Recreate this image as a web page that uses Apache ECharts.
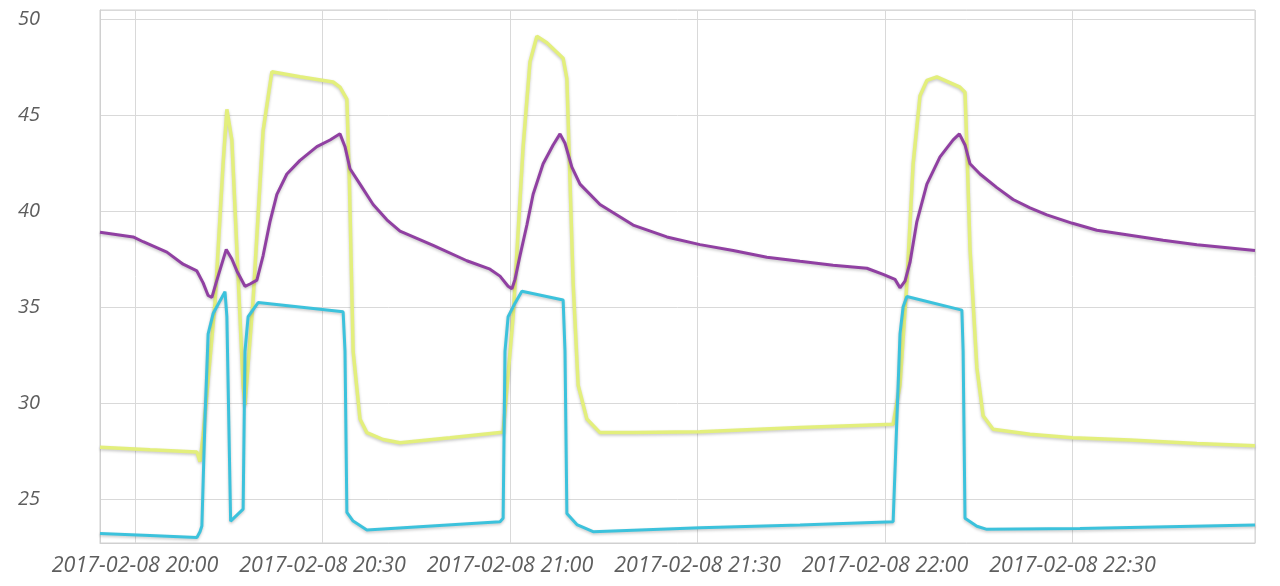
<!DOCTYPE html>
<html>
<head>
<meta charset="utf-8">
<script src="https://cdn.jsdelivr.net/npm/echarts@6/dist/echarts.min.js"></script>
<style>
  html, body { margin: 0; padding: 0; background: #ffffff; }
  #chart { width: 1280px; height: 586px; }
</style>
</head>
<body>
<div id="chart"></div>
<script>
// ---- data (minutes relative to 2017-02-08 20:00, values) ----
var baseDate = [2017, 1, 8, 20, 0];
var axisStartMinutes = -5.6;
var axisEndMinutes = 179.2;
var yMin = 22.71;
var yMax = 50.47;

var purpleMinutes = [-5.6,-0.3,1.3,5.1,7.7,9.9,10.9,11.7,12.3,13.1,14.6,15.5,16.3,17.6,18.4,19.5,20.5,21.6,22.7,24.3,26.4,29.1,31.2,32.8,33.6,34.4,36.0,38.1,40.3,42.4,47.7,53.1,56.8,58.4,59.7,60.3,60.8,61.6,62.7,63.7,65.3,66.9,68.0,68.8,69.9,71.2,74.4,79.7,85.1,90.4,95.7,101.1,106.4,111.7,117.1,119.7,121.6,122.4,123.2,124.0,125.1,126.7,128.8,130.9,131.9,132.8,133.6,135.2,137.9,140.5,143.2,145.9,150.0,153.9,159.2,164.5,169.9,175.2,179.2];
var purpleValues  = [38.9,38.65,38.4,37.86,37.23,36.88,36.26,35.6,35.5,36.4,38.0,37.5,36.88,36.08,36.2,36.4,37.68,39.45,40.87,41.93,42.64,43.35,43.7,44.02,43.35,42.2,41.4,40.34,39.54,38.95,38.21,37.41,36.97,36.61,36.08,35.95,36.44,37.68,39.27,40.87,42.46,43.44,44.02,43.53,42.29,41.4,40.34,39.27,38.65,38.25,37.94,37.59,37.38,37.18,37.02,36.7,36.44,36.0,36.35,37.32,39.45,41.4,42.82,43.71,44.02,43.44,42.46,41.93,41.22,40.6,40.16,39.8,39.36,39.0,38.74,38.48,38.24,38.07,37.94];

var yellowMinutes = [-5.6,2.4,9.9,10.4,10.9,12.8,14.1,14.7,15.5,16.3,17.3,17.6,18.9,20.5,21.9,26.4,31.7,32.8,33.9,34.3,34.9,36.0,37.1,39.7,42.4,50.4,58.4,58.9,60.5,62.1,63.2,64.3,65.9,68.5,69.1,69.6,70.1,70.9,72.3,74.4,79.7,90.4,106.4,121.3,122.4,123.5,124.5,125.6,126.7,128.3,132.0,132.8,133.1,133.6,134.7,135.7,137.3,143.2,150.0,159.2,169.9,179.2];
var yellowValues  = [27.7,27.57,27.45,26.95,28.3,35.2,42.5,45.3,43.7,38.0,30.9,29.9,35.4,44.2,47.25,46.99,46.72,46.45,45.83,41.58,32.7,29.17,28.46,28.1,27.93,28.19,28.46,28.49,34.5,43.35,47.78,49.1,48.76,47.96,46.9,41.58,36.26,30.94,29.17,28.46,28.46,28.5,28.72,28.9,30.94,36.26,42.46,46.0,46.8,46.99,46.45,46.19,43.35,38.03,31.83,29.34,28.63,28.37,28.19,28.07,27.89,27.78];

var cyanMinutes = [-5.6,2.4,9.9,10.4,10.7,11.2,11.7,12.5,14.4,14.7,15.3,17.3,17.6,18.1,19.7,33.3,33.6,33.9,34.9,37.1,58.4,58.9,59.2,59.7,60.8,61.9,68.5,68.8,69.1,70.7,73.3,90.4,106.4,121.3,122.4,122.9,123.5,132.3,132.5,132.8,134.7,136.3,151.2,179.2];
var cyanValues  = [23.2,23.1,23.0,23.3,23.6,29.2,33.6,34.66,35.8,34.5,23.85,24.47,32.7,34.5,35.23,34.75,32.7,24.3,23.85,23.39,23.82,24.0,32.7,34.5,35.2,35.82,35.37,32.7,24.25,23.67,23.3,23.5,23.65,23.82,33.6,35.02,35.55,34.84,32.7,24.0,23.58,23.42,23.47,23.65];

// ---- helpers ----
var baseTime = new Date(baseDate[0], baseDate[1], baseDate[2], baseDate[3], baseDate[4]).getTime();
function toTime(m) { return baseTime + Math.round(m * 60000); }
function pairs(ms, vs) { return ms.map(function (m, i) { return [toTime(m), vs[i]]; }); }
function pad(n) { return (n < 10 ? '0' : '') + n; }
function fmtTime(v) {
  var d = new Date(v);
  return d.getFullYear() + '-' + pad(d.getMonth() + 1) + '-' + pad(d.getDate()) + ' ' + pad(d.getHours()) + ':' + pad(d.getMinutes());
}

var gridColor = '#d9d9d9';

function lineSeries(name, data, color, width) {
  return {
    name: name,
    type: 'line',
    data: data,
    showSymbol: false,
    smooth: false,
    animation: false,
    lineStyle: {
      color: color,
      width: width,
      shadowColor: 'rgba(0,0,0,0.22)',
      shadowBlur: 3,
      shadowOffsetY: 1.5
    },
    itemStyle: { color: color }
  };
}

var chart = echarts.init(document.getElementById('chart'), null, { renderer: 'canvas' });
chart.setOption({
  backgroundColor: '#ffffff',
  animation: false,
  grid: {
    left: 100, right: 25, top: 10, bottom: 43,
    show: true, borderColor: '#d0d0d0', borderWidth: 1,
    containLabel: false
  },
  xAxis: {
    type: 'time',
    min: toTime(axisStartMinutes),
    max: toTime(axisEndMinutes),
    splitNumber: 6,
    minInterval: 31 * 60000,
    maxInterval: 59 * 60000,
    axisLine: { show: true, lineStyle: { color: '#d0d0d0' } },
    axisTick: { show: false },
    splitLine: { show: true, lineStyle: { color: gridColor, width: 1 } },
    axisLabel: {
      margin: 12,
      showMinLabel: false,
      showMaxLabel: false,
      hideOverlap: false,
      fontFamily: 'Open Sans', fontStyle: 'italic', fontSize: 21.5, color: '#5e5e5e',
      formatter: function (v) { return fmtTime(v); }
    }
  },
  yAxis: {
    type: 'value',
    min: yMin,
    max: yMax,
    splitNumber: 5,
    axisLine: { show: true, lineStyle: { color: '#d0d0d0' } },
    axisTick: { show: false },
    splitLine: { show: true, lineStyle: { color: gridColor, width: 1 } },
    axisLabel: {
      margin: 60,
      showMinLabel: false,
      showMaxLabel: false,
      fontFamily: 'Open Sans', fontStyle: 'italic', fontSize: 20, color: '#5e5e5e',
      formatter: function (v) { return (Math.abs(v % 5) < 1e-6) ? String(v) : ''; }
    }
  },
  series: [
    lineSeries('yellow', pairs(yellowMinutes, yellowValues), '#e3ef7c', 3.5),
    lineSeries('cyan', pairs(cyanMinutes, cyanValues), '#3cc2dc', 3),
    lineSeries('purple', pairs(purpleMinutes, purpleValues), '#9040a2', 3)
  ]
});
</script>
</body>
</html>
